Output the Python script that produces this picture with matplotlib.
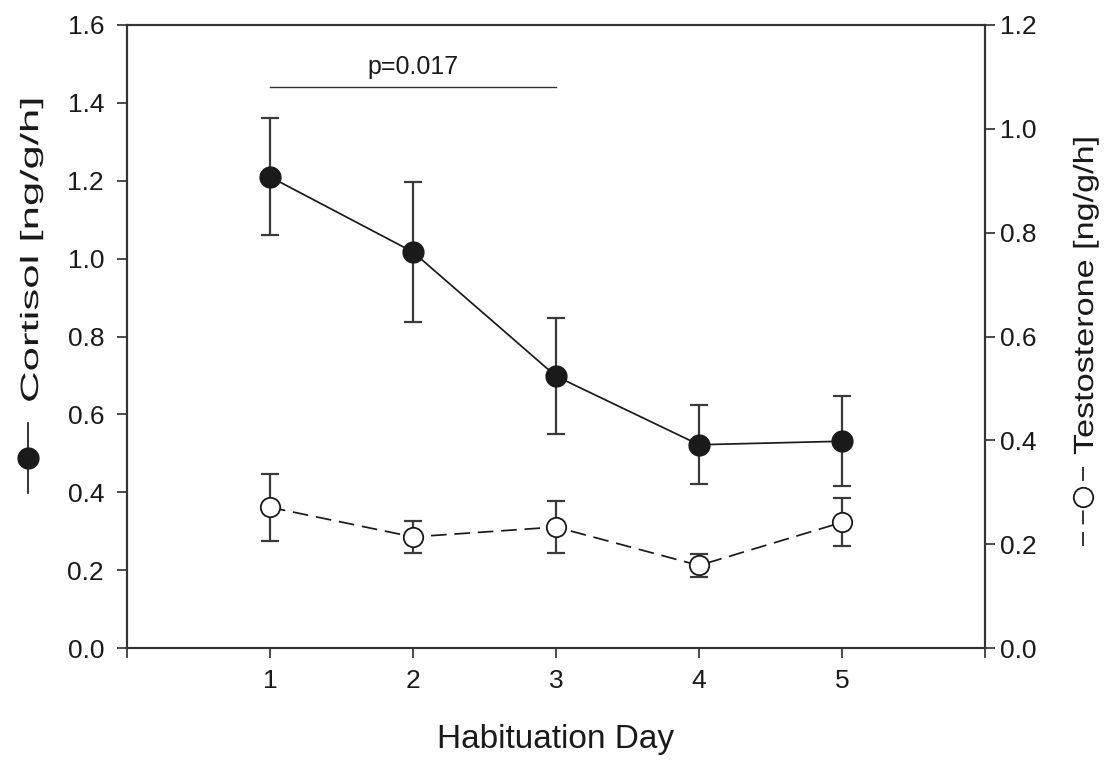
import matplotlib
matplotlib.use('Agg')
import matplotlib.pyplot as plt
from matplotlib.lines import Line2D
from matplotlib.patheffects import AbstractPathEffect
from matplotlib.transforms import Affine2D

plt.rcParams['font.family'] = ['Liberation Sans', 'DejaVu Sans']

# values
days = [1, 2, 3, 4, 5]
cortisol = [1.210, 1.017, 0.698, 0.522, 0.531]
cortisol_err = [0.150, 0.180, 0.149, 0.102, 0.115]
testosterone = [0.271, 0.214, 0.233, 0.159, 0.242]
testosterone_err = [0.064, 0.031, 0.050, 0.022, 0.046]
p_days = [1, 3]
p_level = 1.442
p_text = 'p=0.017'
xtick_labels = ['', '1', '2', '3', '4', '5', '']

W, H = 1109, 760
INK = '#1a1a1a'
ERR = '#3a3a3a'


class Stretch(AbstractPathEffect):
    # widen glyphs along the text direction (rotated labels are elongated)
    def __init__(self, sx):
        super().__init__()
        self.sx = sx

    def draw_path(self, renderer, gc, tpath, affine, rgbFace=None):
        renderer.draw_path(gc, tpath, Affine2D().scale(self.sx, 1) + affine, rgbFace)


def px(x, y):
    return x / W, 1 - y / H


fig = plt.figure(figsize=(W / 100, H / 100), dpi=100)
ax = fig.add_axes([127 / W, 112 / H, 858 / W, 623 / H])
ax2 = ax.twinx()

ax.errorbar(days, cortisol, yerr=cortisol_err, fmt='none', ecolor=ERR,
            elinewidth=1.6, capsize=6.5, capthick=1.6, zorder=2)
ax.plot(days, cortisol, color=INK, lw=1.25, marker='o', ms=15,
        mfc=INK, mec=INK, mew=1, zorder=3)
ax.plot(p_days, [p_level, p_level], color='#333333', lw=1.0)
ax.text(sum(p_days) / 2, p_level + 0.032, p_text, ha='center', va='baseline',
        fontsize=18, color=INK)

ax2.errorbar(days, testosterone, yerr=testosterone_err, fmt='none', ecolor=ERR,
             elinewidth=1.6, capsize=6.5, capthick=1.6, zorder=2)
ax2.plot(days, testosterone, color=INK, lw=1.25, dashes=(9, 4.5), marker='o',
         ms=14, mfc='white', mec=INK, mew=1.3, zorder=3)

ax.set_xlim(0, 6)
ax.set_ylim(0, 1.6)
ax2.set_ylim(0, 1.2)
ax.set_xticks(range(0, 7))
ax.set_xticklabels(xtick_labels)
ax.set_yticks([i * 0.2 for i in range(9)])
ax.set_yticklabels(['{:.1f}'.format(i * 0.2) for i in range(9)])
ax2.set_yticks([i * 0.2 for i in range(7)])
ax2.set_yticklabels(['{:.1f}'.format(i * 0.2) for i in range(7)])

for a in (ax, ax2):
    for s in a.spines.values():
        s.set_linewidth(1.5)
        s.set_color('#333333')
ax.tick_params(axis='x', direction='out', length=7, width=1.1, pad=8,
               labelsize=19, colors=INK)
ax.tick_params(axis='y', direction='out', length=7, width=1.1, pad=9.5,
               labelsize=19, colors=INK)
ax2.tick_params(axis='y', direction='out', length=7, width=1.1, pad=3.6,
                labelsize=19, colors=INK)

ax.set_xlabel('Habituation Day', fontsize=24, color=INK)
ax.xaxis.set_label_coords(0.5, -0.1605)
ax.xaxis.label.set_va('baseline')

# rotated axis titles with their series symbols
fig.text(*px(38, 403), 'Cortisol [ng/g/h]', rotation=90, rotation_mode='anchor',
         ha='left', va='baseline', fontsize=18, color=INK,
         path_effects=[Stretch(1.75)])
fig.text(*px(1093, 455), 'Testosterone [ng/g/h]', rotation=90,
         rotation_mode='anchor', ha='left', va='baseline', fontsize=20,
         color=INK, path_effects=[Stretch(1.23)])

(x0, y0), (x1, y1) = px(27.5, 423), px(27.5, 493)
fig.add_artist(Line2D([x0, x1], [y0, y1], transform=fig.transFigure,
                      color=INK, lw=1.25))
fig.add_artist(Line2D([x0], [px(0, 458)[1]], transform=fig.transFigure,
                      marker='o', ms=15, mfc=INK, mec=INK, ls='none'))

(x0, y0), (x1, y1) = px(1083, 467), px(1083, 550)
fig.add_artist(Line2D([x0, x1], [y0, y1], transform=fig.transFigure,
                      color=INK, lw=1.25, dashes=(8, 4.5)))
fig.add_artist(Line2D([x0], [px(0, 497)[1]], transform=fig.transFigure,
                      marker='o', ms=14, mfc='white', mec=INK, mew=1.3,
                      ls='none'))

fig.savefig('out.png', dpi=100)
